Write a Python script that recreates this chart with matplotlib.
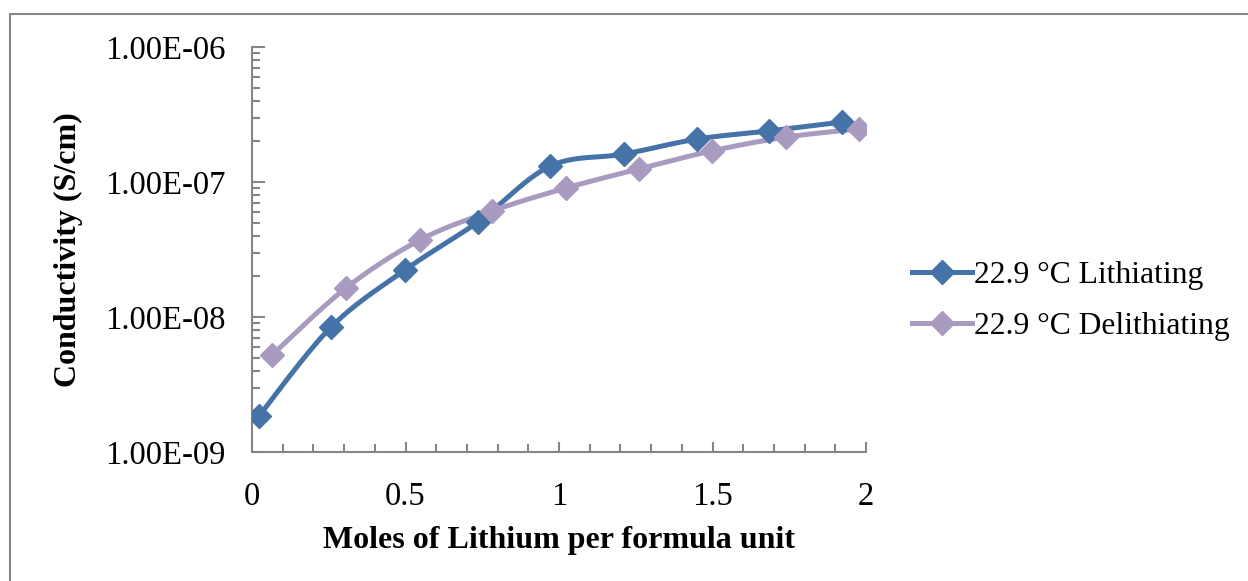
import numpy as np
import matplotlib
matplotlib.use("Agg")
import matplotlib.pyplot as plt
from matplotlib.ticker import FixedLocator, NullFormatter, MultipleLocator
from matplotlib.patches import Rectangle

plt.rcParams['font.family'] = ['Liberation Serif', 'DejaVu Serif']

# data
lith_x = [0.023, 0.257, 0.498, 0.736, 0.971, 1.212, 1.450, 1.684, 1.922]
lith_y = [1.85e-9, 8.4e-9, 2.23e-8, 5.06e-8, 1.31e-7, 1.61e-7, 2.08e-7, 2.39e-7, 2.78e-7]
delith_x = [0.065, 0.306, 0.547, 0.782, 1.023, 1.261, 1.498, 1.739, 1.977]
delith_y = [5.23e-9, 1.64e-8, 3.72e-8, 6.1e-8, 9.03e-8, 1.25e-7, 1.70e-7, 2.15e-7, 2.47e-7]
labels = ['22.9 °C Lithiating', '22.9 °C Delithiating']
colors = ['#4572A7', '#A99BC0']
y_ticks = [1e-9, 1e-8, 1e-7, 1e-6]
y_ticklabels = ['1.00E-09', '1.00E-08', '1.00E-07', '1.00E-06']


def smooth(xs, ys, n=30):
    # Excel-like smoothed line (Catmull-Rom) in screen proportions
    sx, sy = 307.0, 135.0
    px = np.array(xs) * sx
    py = np.log10(ys) * sy
    P = np.column_stack([px, py])
    P = np.vstack([P[0], P, P[-1]])
    out = []
    for i in range(1, len(P) - 2):
        p0, p1, p2, p3 = P[i - 1], P[i], P[i + 1], P[i + 2]
        t = np.linspace(0, 1, n)[:, None]
        c1 = p1 + (p2 - p0) / 6.0
        c2 = p2 - (p3 - p1) / 6.0
        seg = ((1 - t) ** 3) * p1 + 3 * ((1 - t) ** 2) * t * c1 + 3 * (1 - t) * t ** 2 * c2 + t ** 3 * p2
        out.append(seg)
    out = np.vstack(out)
    return out[:, 0] / sx, 10 ** (out[:, 1] / sy)


fig = plt.figure(figsize=(12.48, 5.81), dpi=100)
fig.patches.append(Rectangle((10 / 1248, -0.1), 1.2, 1 - 14 / 581 + 0.1, transform=fig.transFigure,
                             fill=False, edgecolor='#868686', linewidth=1.5))
ax = fig.add_axes([252 / 1248, 1 - 452 / 581, (866 - 252) / 1248, (452 - 47) / 581])

for xs, ys, c, lab in [(lith_x, lith_y, colors[0], labels[0]), (delith_x, delith_y, colors[1], labels[1])]:
    sxs, sys_ = smooth(xs, ys)
    ax.plot(sxs, sys_, color=c, linewidth=3.6, solid_capstyle='round', zorder=2)
    ax.plot(xs, ys, linestyle='none', marker='D', markersize=12, color=c, zorder=3)
    ax.plot([], [], color=c, linewidth=3.6, marker='D', markersize=12, label=lab)

ax.set_yscale('log')
ax.set_ylim(1e-9, 1e-6)
ax.set_xlim(0, 2)
ax.yaxis.set_major_locator(FixedLocator(y_ticks))
ax.set_yticklabels(y_ticklabels)
ax.yaxis.set_minor_locator(FixedLocator([m * 10.0 ** e for e in range(-9, -6) for m in range(2, 10)]))
ax.yaxis.set_minor_formatter(NullFormatter())
ax.xaxis.set_minor_locator(MultipleLocator(0.1))
ax.set_xticks([0, 0.5, 1, 1.5, 2])
ax.set_xticklabels(['0', '0.5', '1', '1.5', '2'])

for s in ['top', 'right']:
    ax.spines[s].set_visible(False)
for s in ['left', 'bottom']:
    ax.spines[s].set_color('#868686')
    ax.spines[s].set_linewidth(1.5)
ax.tick_params(axis='both', which='major', direction='in', length=9, width=1.5, color='#868686',
               labelsize=23.5)
ax.tick_params(axis='both', which='minor', direction='in', length=6, width=1.5, color='#868686')
ax.tick_params(axis='x', which='major', length=7, pad=21)
ax.tick_params(axis='y', which='major', pad=19)

ax.set_xlabel('Moles of Lithium per formula unit', fontsize=23, fontweight='bold', labelpad=10)
ax.set_ylabel('Conductivity (S/cm)', fontsize=23, fontweight='bold', labelpad=16)

ax.legend(loc='center left', bbox_to_anchor=(912 / 1248, 1 - 301 / 581), bbox_transform=fig.transFigure,
          frameon=False, fontsize=22.8, handlelength=1.9, handletextpad=0.05, labelspacing=0.68,
          borderaxespad=0, borderpad=0)

fig.savefig('out.png', dpi=100)
